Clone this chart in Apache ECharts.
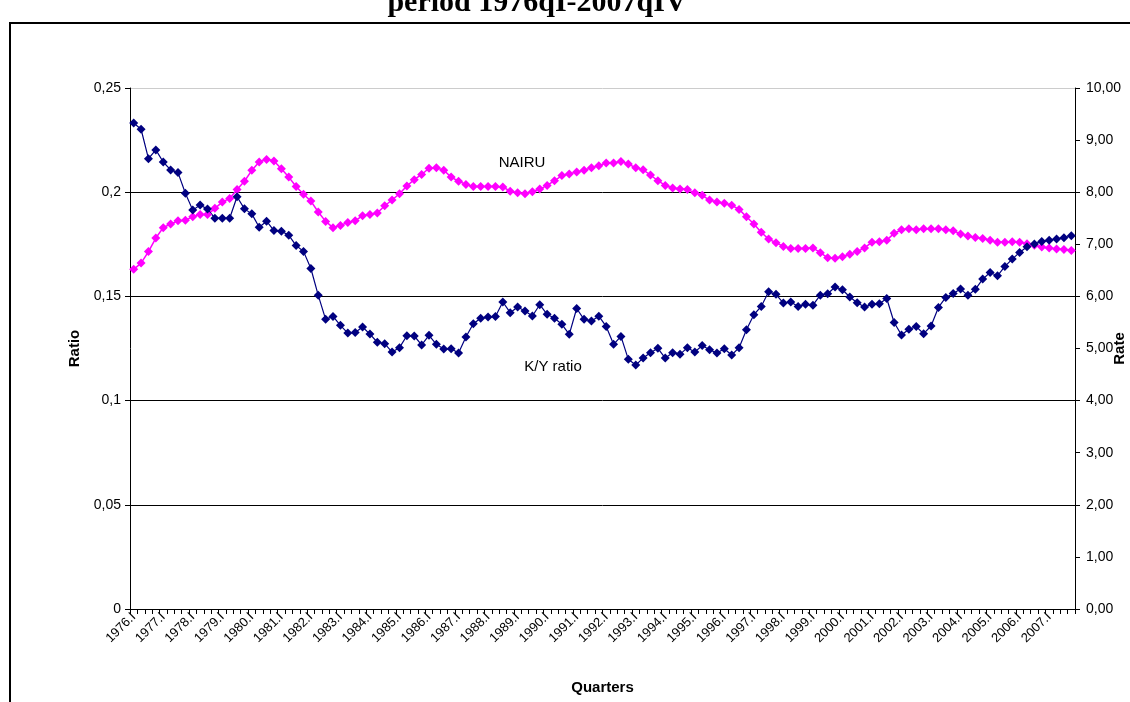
<!DOCTYPE html>
<html>
<head>
<meta charset="utf-8">
<title>K/Y ratio and NAIRU</title>
<script src="https://cdn.jsdelivr.net/npm/echarts@6/dist/echarts.min.js"></script>
<style>
	html, body { margin: 0; padding: 0; background: #fff; }
	#chart { width: 1130px; height: 702px; }
</style>
</head>
<body>
<div id="chart"></div>
<script>
// quarters 1976.I - 2007.IV
const years = [1976, 1977, 1978, 1979, 1980, 1981, 1982, 1983, 1984, 1985, 1986, 1987, 1988, 1989, 1990, 1991,
	1992, 1993, 1994, 1995, 1996, 1997, 1998, 1999, 2000, 2001, 2002, 2003, 2004, 2005, 2006, 2007];
const quarterNames = ['I', 'II', 'III', 'IV'];

// left axis (Ratio)
const kyRatio = [
	0.2332, 0.2302, 0.2161, 0.2203, 0.2145, 0.2107, 0.2094, 0.1995, 0.1914, 0.1938,
	0.1919, 0.1875, 0.1875, 0.1875, 0.1978, 0.1920, 0.1896, 0.1832, 0.1861, 0.1816,
	0.1813, 0.1794, 0.1744, 0.1716, 0.1634, 0.1505, 0.1390, 0.1404, 0.1361, 0.1324,
	0.1327, 0.1353, 0.1319, 0.1280, 0.1273, 0.1233, 0.1254, 0.1311, 0.1310, 0.1267,
	0.1313, 0.1270, 0.1248, 0.1249, 0.1228, 0.1305, 0.1369, 0.1395, 0.1401, 0.1404,
	0.1473, 0.1422, 0.1449, 0.1430, 0.1406, 0.1460, 0.1414, 0.1395, 0.1366, 0.1318,
	0.1442, 0.1390, 0.1382, 0.1405, 0.1356, 0.1270, 0.1308, 0.1198, 0.1171, 0.1204,
	0.1230, 0.1251, 0.1204, 0.1230, 0.1222, 0.1254, 0.1233, 0.1264, 0.1244, 0.1228,
	0.1249, 0.1219, 0.1254, 0.1340, 0.1412, 0.1452, 0.1522, 0.1510, 0.1468, 0.1473,
	0.1452, 0.1462, 0.1458, 0.1506, 0.1513, 0.1545, 0.1532, 0.1497, 0.1470, 0.1449,
	0.1462, 0.1465, 0.1490, 0.1375, 0.1315, 0.1342, 0.1355, 0.1321, 0.1358, 0.1447,
	0.1495, 0.1514, 0.1535, 0.1505, 0.1534, 0.1583, 0.1615, 0.1599, 0.1644, 0.1679,
	0.1711, 0.1738, 0.1752, 0.1764, 0.1770, 0.1776, 0.1781, 0.1791
];

// right axis (Rate)
const nairu = [
	6.52, 6.64, 6.86, 7.12, 7.32, 7.39, 7.45, 7.46, 7.53, 7.57,
	7.57, 7.69, 7.81, 7.88, 8.05, 8.21, 8.42, 8.58, 8.63, 8.60,
	8.45, 8.29, 8.11, 7.96, 7.83, 7.62, 7.44, 7.32, 7.36, 7.42,
	7.45, 7.55, 7.57, 7.60, 7.74, 7.85, 7.97, 8.12, 8.24, 8.34,
	8.46, 8.47, 8.42, 8.29, 8.21, 8.15, 8.11, 8.11, 8.11, 8.11,
	8.10, 8.02, 7.99, 7.97, 8.01, 8.06, 8.13, 8.22, 8.32, 8.35,
	8.39, 8.42, 8.47, 8.51, 8.56, 8.56, 8.59, 8.54, 8.47, 8.43,
	8.33, 8.22, 8.13, 8.08, 8.06, 8.05, 7.99, 7.94, 7.85, 7.81,
	7.79, 7.75, 7.67, 7.53, 7.39, 7.23, 7.10, 7.03, 6.96, 6.92,
	6.92, 6.92, 6.93, 6.84, 6.74, 6.73, 6.76, 6.81, 6.86, 6.93,
	7.04, 7.05, 7.08, 7.21, 7.28, 7.30, 7.28, 7.30, 7.30, 7.30,
	7.28, 7.26, 7.20, 7.16, 7.13, 7.11, 7.08, 7.04, 7.04, 7.05,
	7.04, 7.01, 6.98, 6.95, 6.93, 6.91, 6.90, 6.88
];

const ratioTicks = { min: 0, max: 0.25, interval: 0.05 };
const rateTicks = { min: 0, max: 10, interval: 1 };

const FONT = '"Liberation Sans", Arial, sans-serif';

class LineChart
{
	constructor(element)
	{
		this.element = element;
		this.chart = echarts.init(this.element, null, { renderer: 'canvas' });
	}

	Draw()
	{
		let categories = [];
		years.forEach((y) =>
		{
			quarterNames.forEach((q) => categories.push(y + '.' + q));
		});

		const nameStyle = { fontFamily: FONT, fontSize: 15, fontWeight: 'bold', color: '#000' };

		var option = {
			animation: false,
			backgroundColor: '#fff',
			textStyle: { fontFamily: FONT },
			grid: { left: 130, right: 55, top: 88, bottom: 93, containLabel: false, outerBoundsMode: 'none' },
			xAxis: {
				type: 'category',
				data: categories,
				boundaryGap: true,
				name: 'Quarters',
				nameLocation: 'middle',
				nameGap: 71,
				nameMoveOverlap: false,
				nameTextStyle: nameStyle,
				axisLine: { lineStyle: { color: '#000', width: 1 } },
				axisTick: { show: true, interval: 0, length: 5, alignWithLabel: false, lineStyle: { color: '#000' } },
				axisLabel: {
					interval: 3,
					rotate: 45,
					margin: 6,
					fontFamily: FONT,
					fontSize: 13,
					color: '#000'
				},
				splitLine: { show: false }
			},
			yAxis: [
				{
					type: 'value',
					min: ratioTicks.min,
					max: ratioTicks.max,
					interval: ratioTicks.interval,
					name: 'Ratio',
					nameLocation: 'middle',
					nameGap: 48,
					nameRotate: 90,
					nameMoveOverlap: false,
					nameTextStyle: nameStyle,
					axisLine: { show: true, lineStyle: { color: '#000', width: 1 } },
					axisTick: { show: true, length: 5, lineStyle: { color: '#000' } },
					axisLabel: {
						margin: 9,
						fontFamily: FONT,
						fontSize: 14,
						color: '#000',
						formatter: (v) => String(parseFloat(v.toFixed(2))).replace('.', ',')
					},
					splitLine: {
						show: true,
						lineStyle: { color: ['#000', '#000', '#000', '#000', '#000', '#ccc'], width: 1 }
					}
				},
				{
					type: 'value',
					position: 'right',
					min: rateTicks.min,
					max: rateTicks.max,
					interval: rateTicks.interval,
					name: 'Rate',
					nameLocation: 'middle',
					nameGap: 37,
					nameRotate: 90,
					nameMoveOverlap: false,
					nameTextStyle: nameStyle,
					axisLine: { show: true, lineStyle: { color: '#000', width: 1 } },
					axisTick: { show: true, length: 5, lineStyle: { color: '#000' } },
					axisLabel: {
						margin: 11,
						fontFamily: FONT,
						fontSize: 14,
						color: '#000',
						formatter: (v) => v.toFixed(2).replace('.', ',')
					},
					splitLine: { show: false }
				}
			],
			graphic: [
				{
					type: 'rect',
					silent: true,
					shape: { x: 10, y: 23, width: 1200, height: 800 },
					style: { fill: null, stroke: '#000', lineWidth: 2 }
				},
				{
					type: 'text',
					silent: true,
					style: {
						x: 537, y: 18,
						text: 'period 1976qI-2007qIV',
						font: 'bold 30px "Liberation Serif", "Times New Roman", serif',
						fill: '#000',
						textAlign: 'center',
						textVerticalAlign: 'bottom'
					}
				},
				{
					type: 'text',
					silent: true,
					style: {
						x: 522, y: 163,
						text: 'NAIRU',
						font: '15px ' + FONT,
						fill: '#000',
						textAlign: 'center',
						textVerticalAlign: 'middle'
					}
				},
				{
					type: 'text',
					silent: true,
					style: {
						x: 553, y: 367,
						text: 'K/Y ratio',
						font: '15px ' + FONT,
						fill: '#000',
						textAlign: 'center',
						textVerticalAlign: 'middle'
					}
				}
			],
			series: [
				{
					name: 'NAIRU',
					type: 'line',
					yAxisIndex: 1,
					data: nairu,
					symbol: 'diamond',
					symbolSize: 9,
					showAllSymbol: true,
					itemStyle: { color: '#FF00FF' },
					lineStyle: { color: '#FF00FF', width: 1.5 }
				},
				{
					name: 'K/Y ratio',
					type: 'line',
					yAxisIndex: 0,
					data: kyRatio,
					symbol: 'diamond',
					symbolSize: 9,
					showAllSymbol: true,
					itemStyle: { color: '#000080' },
					lineStyle: { color: '#000080', width: 1.2 }
				}
			]
		};

		this.chart.setOption(option);
	}
}

new LineChart(document.getElementById('chart')).Draw();
</script>
</body>
</html>
